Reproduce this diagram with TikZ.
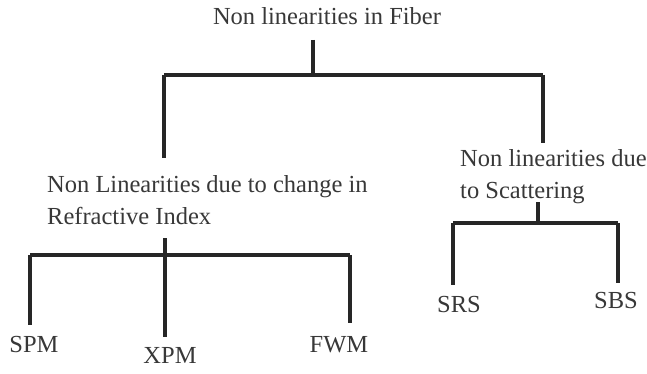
\documentclass[tikz,border=0pt]{standalone}
\usepackage{fontspec}
\setmainfont{Liberation Serif}
\begin{document}
\begin{tikzpicture}[x=1pt,y=-1pt,
  lbl/.style={inner sep=0pt, text=black!78, font=\fontsize{24.5}{31}\selectfont},
  br/.style={line width=3.2pt, draw=black!85}]
\useasboundingbox[fill=white] (0,0) rectangle (647,374);
% texts
\node[lbl, anchor=base] (root) at (327,25) {Non linearities in Fiber};
\node[lbl, anchor=base west] (refr1) at (47,193) {Non Linearities due to change in};
\node[lbl, anchor=base west] (refr2) at (47,224) {Refractive Index};
\node[lbl, anchor=base west] (scat1) at (460,167) {Non linearities due};
\node[lbl, anchor=base west] (scat2) at (460,198) {to Scattering};
\node[lbl, anchor=base] (spm) at (34,352) {SPM};
\node[lbl, anchor=base] (xpm) at (170,363) {XPM};
\node[lbl, anchor=base] (fwm) at (339,352) {FWM};
\node[lbl, anchor=base] (srs) at (459,312) {SRS};
\node[lbl, anchor=base] (sbs) at (616,308) {SBS};
% junctions
\coordinate (j0) at (313,75);
\coordinate (jA) at (164,75);
\coordinate (jB) at (543,75);
\coordinate (j1) at (165,255);
\coordinate (j1a) at (30,255);
\coordinate (j1c) at (350,255);
\coordinate (j2) at (538,223);
\coordinate (j2a) at (453,223);
\coordinate (j2b) at (618,223);
% connectors
\draw[br] ([yshift=-15pt]root.base -| j0) -- (j0);
\draw[br] (jA) -- (jB);
\draw[br] (jA) -- ([yshift=35pt]refr1.base -| jA);
\draw[br] (jB) -- ([yshift=24pt]scat1.base -| jB);
\draw[br] ([yshift=-14pt]refr2.base -| j1) -- (j1);
\draw[br] (j1a) -- (j1c);
\draw[br] (j1a) -- ([yshift=27pt]spm.base -| j1a);
\draw[br] (j1) -- ([yshift=26pt]xpm.base -| j1);
\draw[br] (j1c) -- ([yshift=29pt]fwm.base -| j1c);
\draw[br] ([yshift=-4pt]scat2.base -| j2) -- (j2);
\draw[br] (j2a) -- (j2b);
\draw[br] (j2a) -- ([yshift=27pt]srs.base -| j2a);
\draw[br] (j2b) -- ([yshift=25pt]sbs.base -| j2b);
\end{tikzpicture}
\end{document}
